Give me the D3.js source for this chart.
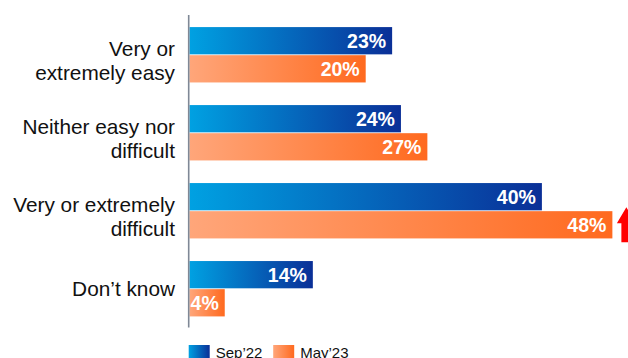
<!DOCTYPE html>
<html>
<head>
<meta charset="utf-8">
<script src="https://cdn.jsdelivr.net/npm/d3@7"></script>
<style>
  html, body { margin: 0; padding: 0; background: #ffffff; }
  svg { display: block; font-family: "Liberation Sans", Arial, sans-serif; }
</style>
</head>
<body>
<svg id="chart" width="628" height="358"></svg>
<script>
// Category labels (each entry is the list of wrapped lines)
const categories = [
  ["Very or", "extremely easy"],
  ["Neither easy nor", "difficult"],
  ["Very or extremely", "difficult"],
  ["Don\u2019t know"]
];
const seriesNames = ["Sep\u201922", "May\u201923"];
const sep22 = [23, 24, 40, 14];
const may23 = [20, 27, 48, 4];

const W = 628, H = 358;
const svg = d3.select("#chart");

const rows = categories.map((c, i) => ({ key: i, lines: c, values: [sep22[i], may23[i]] }));

const x = d3.scaleLinear().domain([0, 50]).range([189.5, 630]);
const y = d3.scaleBand().domain(rows.map(r => r.key)).range([15, 328.5])
  .paddingInner(0.29).paddingOuter(0.155);
const ySub = d3.scaleBand().domain([0, 1]).range([0, y.bandwidth()]).paddingInner(0.03);

// Gradients for the two series
const defs = svg.append("defs");
const grads = [
  { id: "gradSep", stops: ["#00a1e2", "#0a2f97"] },
  { id: "gradMay", stops: ["#ffa67a", "#ff6a1f"] }
];
grads.forEach(g => {
  const lg = defs.append("linearGradient").attr("id", g.id)
    .attr("x1", "0%").attr("x2", "100%").attr("y1", "0%").attr("y2", "0%");
  lg.append("stop").attr("offset", "0%").attr("stop-color", g.stops[0]);
  lg.append("stop").attr("offset", "100%").attr("stop-color", g.stops[1]);
});
const fills = ["url(#gradSep)", "url(#gradMay)"];

// Bars and value labels
const group = svg.append("g").selectAll("g.row").data(rows).join("g")
  .attr("class", "row")
  .attr("transform", d => `translate(0,${y(d.key)})`);

group.selectAll("rect").data(d => d.values.map((v, s) => ({ v, s }))).join("rect")
  .attr("x", x(0))
  .attr("y", d => ySub(d.s))
  .attr("width", d => x(d.v) - x(0))
  .attr("height", ySub.bandwidth())
  .attr("fill", d => fills[d.s]);

group.selectAll("text.val").data(d => d.values.map((v, s) => ({ v, s }))).join("text")
  .attr("class", "val")
  .attr("x", d => x(d.v) - 6)
  .attr("y", d => ySub(d.s) + ySub.bandwidth() / 2 + 7)
  .attr("text-anchor", "end")
  .attr("fill", "#ffffff")
  .attr("font-weight", "bold")
  .attr("font-size", "19.5px")
  .text(d => d.v + "%");

// Category labels
const lab = svg.append("g").selectAll("text.cat").data(rows).join("text")
  .attr("class", "cat")
  .attr("text-anchor", "end")
  .attr("font-size", "20.8px")
  .attr("fill", "#111111");
lab.each(function(d) {
  const c = y(d.key) + y.bandwidth() / 2;
  const base = c + 7.4 - (d.lines.length - 1) * 6;
  d3.select(this).selectAll("tspan").data(d.lines).join("tspan")
    .attr("x", 175)
    .attr("y", (l, i) => base + i * 24)
    .text(l => l);
});

// Vertical axis line
svg.append("line")
  .attr("x1", 188.7).attr("x2", 188.7)
  .attr("y1", 15).attr("y2", 327.5)
  .attr("stroke", "#7f8896").attr("stroke-width", 1.6);

// Increase marker beside the largest change
const iUp = 2;
const ay = y(iUp) + ySub(1);
const ax = x(may23[iUp]) + 14;
svg.append("path")
  .attr("d", `M${ax},${ay - 4} L${ax + 9.5},${ay + 12} L${ax + 5},${ay + 12} L${ax + 5},${ay + 31}
              L${ax - 5},${ay + 31} L${ax - 5},${ay + 12} L${ax - 9.5},${ay + 12} Z`)
  .attr("fill", "#ff0000");

// Legend
const legend = svg.append("g").selectAll("g").data(seriesNames).join("g")
  .attr("transform", (d, i) => `translate(${188.7 + i * 84.5},345)`);
legend.append("rect").attr("width", 21).attr("height", 15).attr("fill", (d, i) => fills[i]);
legend.append("text").attr("x", 27).attr("y", 12.5)
  .attr("font-size", "15px").attr("fill", "#111111").text(d => d);
</script>
</body>
</html>
